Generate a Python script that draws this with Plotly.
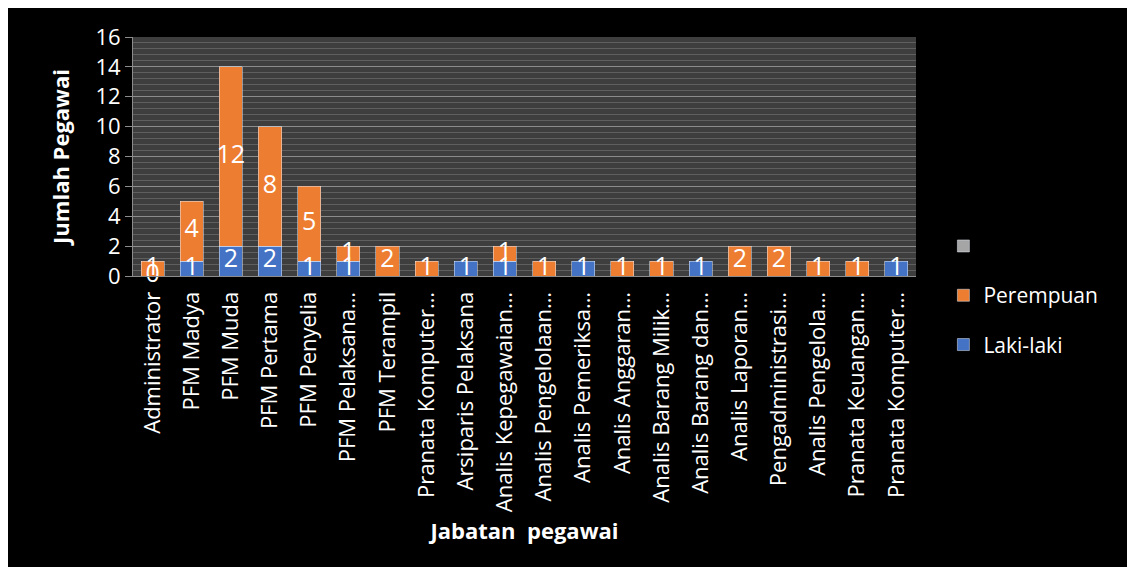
import plotly.graph_objects as go

categories = ["Administrator", "PFM Madya", "PFM Muda", "PFM Pertama", "PFM Penyelia",
              "PFM Pelaksana…", "PFM Terampil", "Pranata Komputer…", "Arsiparis Pelaksana",
              "Analis Kepegawaian…", "Analis Pengelolaan…", "Analis Pemeriksa…",
              "Analis Anggaran…", "Analis Barang Milik…", "Analis Barang dan…",
              "Analis Laporan…", "Pengadministrasi…", "Analis Pengelola…",
              "Pranata Keuangan…", "Pranata Komputer…"]
laki_laki = [0, 1, 2, 2, 1, 1, None, None, 1, 1, None, 1, None, None, 1, None, None, None, None, 1]
perempuan = [1, 4, 12, 8, 5, 1, 2, 1, None, 1, 1, None, 1, 1, None, 2, 2, 1, 1, None]
series3 = [None] * len(categories)
y_ticks = [0, 2, 4, 6, 8, 10, 12, 14, 16]

# page body has an 8px white margin; the figure sits inside it
W, H = 1119, 559
L, R, T, B = 125, 211, 29, 291

FONT = "Open Sans"
idx = list(range(len(categories)))

fig = go.Figure()
fig.add_bar(x=idx, y=laki_laki, name="Laki-laki", marker_color="#4472C4",
            legendgroup="a", legendrank=3)
fig.add_bar(x=idx, y=perempuan, name="Perempuan", marker_color="#ED7D31",
            legendgroup="b", legendrank=2)
fig.add_bar(x=idx, y=series3, name=" ", marker_color="#A5A5A5",
            legendgroup="c", legendrank=1)

# data labels at segment midpoints
lx, ly, lt = [], [], []
px_, py_, pt_ = [], [], []
for i in idx:
    lv = laki_laki[i]
    pv = perempuan[i]
    base = lv if lv is not None else 0
    if lv is not None:
        lx.append(i); ly.append(lv / 2); lt.append(str(lv))
    if pv is not None:
        px_.append(i); py_.append(base + pv / 2); pt_.append(str(pv))
for xs, ys, ts in ((lx, ly, lt), (px_, py_, pt_)):
    fig.add_scatter(x=xs, y=ys, text=ts, mode="text", showlegend=False,
                    textfont=dict(family=FONT, size=25, color="white"),
                    textposition="middle center", cliponaxis=False, hoverinfo="skip")

fig.update_layout(
    width=W, height=H,
    barmode="stack", bargap=0.41,
    paper_bgcolor="black", plot_bgcolor="#3e3e3e",
    margin=dict(l=L, r=R, t=T, b=B, autoexpand=False),
    font=dict(family=FONT, color="white"),
    showlegend=True,
    legend=dict(x=1.035, xanchor="left", y=0.21, yanchor="top",
                traceorder="grouped", tracegroupgap=19,
                font=dict(family=FONT, size=21, color="white"),
                bgcolor="rgba(0,0,0,0)"),
    xaxis=dict(range=[-0.5, len(categories) - 0.5], tickmode="array",
               tickvals=idx, ticktext=categories, tickangle=-90,
               tickfont=dict(family=FONT, size=22, color="white"),
               ticklabelstandoff=6,
               showgrid=False, showline=True, linecolor="#8c8c8c", linewidth=1,
               ticks="", automargin=False, zeroline=False,
               title=dict(text="<b>Jabatan  pegawai</b>", standoff=12,
                          font=dict(family=FONT, size=22, color="white"))),
    yaxis=dict(range=[0, 16], tickmode="array", tickvals=y_ticks,
               tickfont=dict(family=FONT, size=22, color="white"),
               showgrid=True, gridcolor="#8c8c8c", gridwidth=1,
               minor=dict(dtick=0.4, showgrid=True, gridcolor="#5f5f5f", gridwidth=1),
               showline=True, linecolor="#8c8c8c", linewidth=1,
               ticks="outside", ticklen=7, tickcolor="#8c8c8c",
               zeroline=False, automargin=False,
               title=dict(text="<b>Jumlah Pegawai</b>", standoff=19,
                          font=dict(family=FONT, size=22, color="white"))),
)

fig.write_html("out.html")
